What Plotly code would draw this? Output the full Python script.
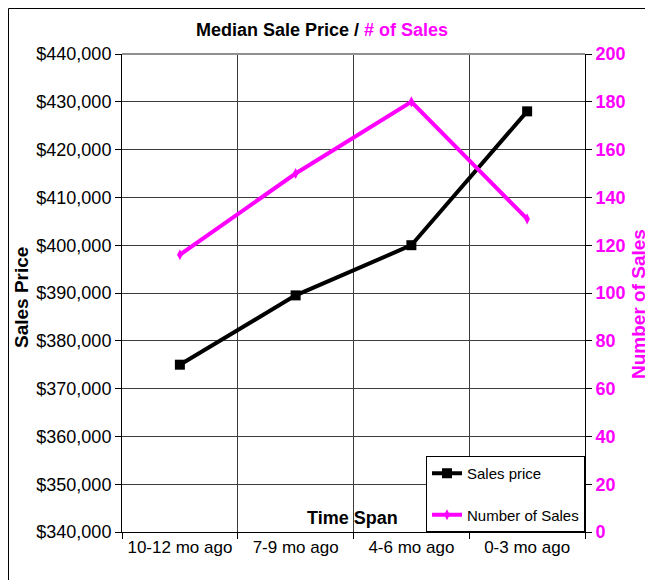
import plotly.graph_objects as go

categories = ["10-12 mo ago", "7-9 mo ago", "4-6 mo ago", "0-3 mo ago"]
sales_price = [375000, 389500, 400000, 428000]
number_of_sales = [116, 150, 180, 131]
price_ticks = list(range(340000, 440001, 10000))
count_ticks = list(range(0, 201, 20))

FONT = "Arial, 'Liberation Sans', sans-serif"
MAG = "#FF00FF"

fig = go.Figure()
fig.add_trace(go.Scatter(
    x=categories, y=sales_price, name="Sales price", mode="lines+markers",
    line=dict(color="black", width=4), marker=dict(symbol="square", size=10, color="black"),
    legendgroup="a", yaxis="y"))
fig.add_trace(go.Scatter(
    x=categories, y=number_of_sales, name="Number of Sales", mode="lines+markers",
    line=dict(color=MAG, width=4), marker=dict(symbol="diamond-tall", size=8, color=MAG),
    legendgroup="b", yaxis="y2"))

OFF = 8  # page body margin
W, H = 653 - OFF, 580 - OFF
# plot area in page pixels: x 122..585, y 54..532
L = 122 - OFF
T = 54 - OFF
R = W - (585 - OFF)
B = H - (532 - OFF)
pw, ph = W - L - R, H - T - B

def px(x):
    return (x - OFF - L) / pw

def py(y):
    return (H - B - (y - OFF)) / ph

fig.update_layout(
    width=W, height=H,
    margin=dict(l=L, r=R, t=T, b=B, pad=0),
    paper_bgcolor="white", plot_bgcolor="white",
    font=dict(family=FONT, size=17, color="black"),
    showlegend=True,
    legend=dict(x=1, xanchor="right", y=0, yanchor="bottom",
                bgcolor="white", bordercolor="black", borderwidth=1,
                font=dict(size=15, color="black"), tracegroupgap=19,
                traceorder="grouped"),
    xaxis=dict(type="category", range=[-0.5, 3.5], tickson="boundaries",
               showgrid=True, gridcolor="#3c3c3c", gridwidth=1,
               showline=True, linecolor="black", linewidth=1,
               ticks="outside", ticklen=6, tickcolor="black",
               tickfont=dict(size=17), fixedrange=True, automargin=False),
    yaxis=dict(range=[340000, 440000], tickvals=price_ticks,
               ticktext=[f"${v:,}" for v in price_ticks],
               showgrid=True, gridcolor="#3c3c3c", gridwidth=1,
               showline=True, linecolor="black", linewidth=1,
               ticks="outside", ticklen=6, tickcolor="black",
               tickfont=dict(size=18), zeroline=False, automargin=False),
    yaxis2=dict(range=[0, 200], tickvals=count_ticks, overlaying="y", side="right",
                showgrid=False, showline=True, linecolor="black", linewidth=1,
                ticks="outside", ticklen=6, tickcolor="black",
                tickfont=dict(size=18, color=MAG, family=FONT, weight="bold"),
                zeroline=False, automargin=False),
    annotations=[
        dict(text="<b>Median Sale Price / </b><b><span style='color:#FF00FF'># of Sales</span></b>",
             xref="paper", yref="paper", x=px(322), y=py(30), xanchor="center", yanchor="middle",
             showarrow=False, font=dict(size=18, color="black")),
        dict(text="<b>Time Span</b>", xref="paper", yref="paper", x=px(352), y=py(518),
             xanchor="center", yanchor="middle", showarrow=False, font=dict(size=18)),
        dict(text="<b>Sales Price</b>", xref="paper", yref="paper", x=px(21), y=py(298),
             xanchor="center", yanchor="middle", textangle=-90, showarrow=False, font=dict(size=19)),
        dict(text="<b>Number of Sales</b>", xref="paper", yref="paper", x=px(638), y=py(304),
             xanchor="center", yanchor="middle", textangle=-90, showarrow=False,
             font=dict(size=19, color=MAG)),
    ],
    shapes=[
        dict(type="line", xref="paper", yref="paper", x0=px(8.5), x1=px(8.5), y0=py(8.5), y1=py(600),
             line=dict(color="black", width=1)),
        dict(type="line", xref="paper", yref="paper", x0=px(8.5), x1=px(670), y0=py(8.5), y1=py(8.5),
             line=dict(color="black", width=1)),
        dict(type="line", xref="paper", yref="paper", x0=0, x1=1, y0=1, y1=1,
             line=dict(color="#909090", width=2)),
    ],
)

fig.write_html("out.html")
